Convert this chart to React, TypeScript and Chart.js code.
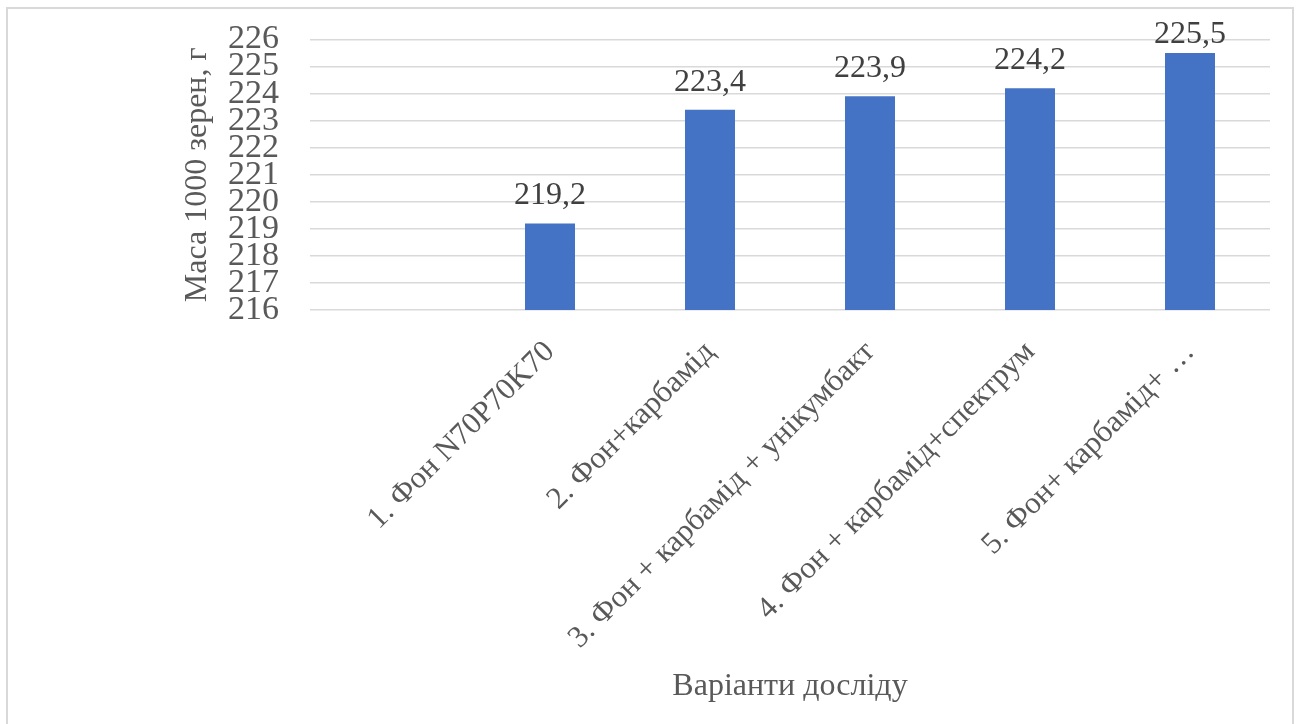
import React, { useEffect, useRef } from "react";
import { Chart, registerables } from "chart.js";

Chart.register(...registerables);

// Experiment variants (the first slot is left empty on the axis)
const categories: string[] = [
  "",
  "1. Фон N70P70K70",
  "2. Фон+карбамід",
  "3. Фон + карбамід + унікумбакт",
  "4. Фон + карбамід+спектрум",
  "5. Фон+ карбамід+ …",
];

// Mass of 1000 grains, g
const grainMass: (number | null)[] = [null, 219.2, 223.4, 223.9, 224.2, 225.5];

// Value axis range
const yMin = 216;
const yMax = 226;
const yStep = 1;

const yTitle = "Маса 1000 зерен, г";
const xTitle = "Варіанти досліду";

const FONT = '"Times New Roman", "Liberation Serif", serif';
const TEXT = "#595959";
const BAR = "#4472C4";
const GRID = "#d9d9d9";

const formatValue = (v: number) => v.toFixed(1).replace(".", ",");

// Writes each bar's value above it, kept inside the canvas at the top
const valueLabels = {
  id: "valueLabels",
  afterDatasetsDraw(chart: any) {
    const ctx = chart.ctx as CanvasRenderingContext2D;
    const meta = chart.getDatasetMeta(0);
    ctx.save();
    ctx.font = `32px ${FONT}`;
    ctx.fillStyle = "#404040";
    ctx.textAlign = "center";
    ctx.textBaseline = "alphabetic";
    meta.data.forEach((bar: any, i: number) => {
      const v = grainMass[i];
      if (v == null) return;
      const y = Math.max(bar.y - 19, 34);
      ctx.fillText(formatValue(v), bar.x, y);
    });
    ctx.restore();
  },
};

export default function App() {
  const canvasRef = useRef<HTMLCanvasElement | null>(null);

  useEffect(() => {
    if (!canvasRef.current) return;
    const chart = new Chart(canvasRef.current, {
      type: "bar",
      data: {
        labels: categories,
        datasets: [
          {
            data: grainMass,
            backgroundColor: BAR,
            borderWidth: 0,
            categoryPercentage: 1,
            barPercentage: 0.3125,
          },
        ],
      },
      options: {
        animation: false,
        responsive: true,
        maintainAspectRatio: false,
        layout: { padding: { left: 0, right: 22, top: 30.5, bottom: 58.8 } },
        plugins: {
          legend: { display: false },
          tooltip: { enabled: false },
        },
        scales: {
          x: {
            grid: { display: false, drawTicks: false },
            border: { display: false },
            ticks: {
              autoSkip: false,
              minRotation: 45,
              maxRotation: 45,
              padding: 24,
              color: TEXT,
              font: { family: FONT, size: 31 },
            },
            title: {
              display: true,
              text: xTitle,
              color: TEXT,
              font: { family: FONT, size: 32 },
              padding: { top: 0, bottom: 0 },
            },
            afterFit: (scale: any) => {
              scale.height = 697.2 - 301;
            },
          },
          y: {
            min: yMin,
            max: yMax,
            grid: {
              color: GRID,
              lineWidth: 1.5,
              drawTicks: true,
              tickLength: 31,
              tickColor: "rgba(0,0,0,0)",
            },
            border: { display: false },
            ticks: {
              stepSize: yStep,
              autoSkip: false,
              padding: 0,
              color: TEXT,
              font: { family: FONT, size: 34, lineHeight: 1 },
            },
            title: {
              display: true,
              text: yTitle,
              color: TEXT,
              font: { family: FONT, size: 32 },
              padding: { top: 170, bottom: 0 },
            },
            afterFit: (scale: any) => {
              scale.width = 302;
            },
          },
        },
      },
      plugins: [valueLabels],
    });
    return () => chart.destroy();
  }, []);

  return (
    <div
      style={{
        position: "fixed",
        left: 6,
        top: 7,
        width: 1288,
        height: 760,
        boxSizing: "border-box",
        border: "2px solid #d9d9d9",
        background: "#fff",
      }}
    >
      <div style={{ position: "relative", width: "100%", height: "100%" }}>
        <canvas ref={canvasRef} />
      </div>
    </div>
  );
}
